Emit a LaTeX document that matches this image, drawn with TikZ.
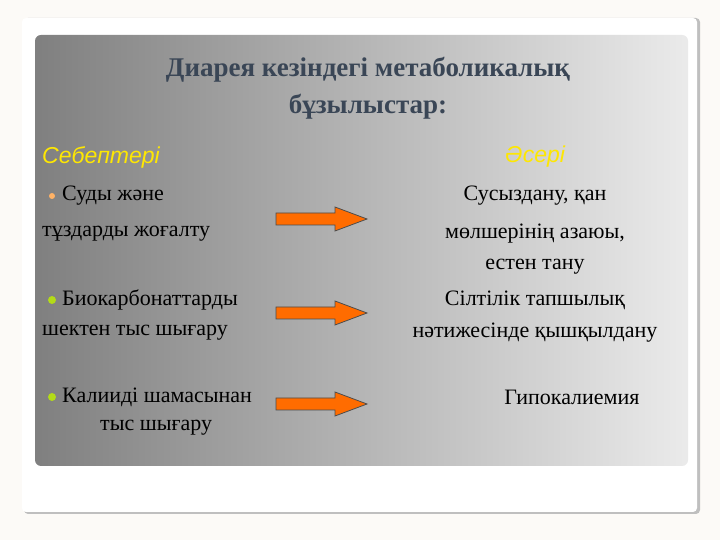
\documentclass[tikz,border=0pt]{standalone}
\usepackage{fontspec}
\setmainfont{Liberation Serif}
\newfontfamily\hsans{Liberation Sans}
\definecolor{ttlc}{HTML}{3A4656}
\begin{document}
\begin{tikzpicture}[x=1pt,y=1pt,
  txt/.style={font=\fontsize{22}{24}\selectfont, inner sep=0pt},
  head/.style={font=\hsans\itshape\fontsize{23}{25}\selectfont, text=yellow!90!orange, inner sep=0pt},
  ttl/.style={font=\bfseries\fontsize{27}{29}\selectfont, text=ttlc, inner sep=0pt},
  arr/.style={fill=orange!85!red, draw=black!70, line width=0.8pt},
  bul/.style={circle, inner sep=0pt, minimum size=8pt, fill=yellow!70!green}]
\useasboundingbox (0,0) rectangle (720,540);
\fill[black!5!brown!4!white] (0,0) rectangle (720,540);
\fill[black!25, rounded corners=4pt] (24,26) rectangle (700,522);
\fill[white, rounded corners=4pt] (22,28) rectangle (697,522);
\shade[left color=black!50, right color=black!8, rounded corners=6pt] (35,74) rectangle (688,505);
\node[ttl] (t1) at (368,470) {Диарея кезіндегі метаболикалық};
\node[ttl] (t2) at (368,433) {бұзылыстар:};
\node[head, anchor=west] (h1) at (42,383) {Себептері};
\node[head] (h2) at (535,383) {Әсері};
\node[circle, inner sep=0pt, minimum size=6pt, fill=orange!60] (b1) at (52,344) {};
\node[txt, anchor=west] (l1) at (62,344) {Суды жəне};
\node[txt, anchor=west] (l2) at (42,306) {тұздарды жоғалту};
\node[bul] (b2) at (52,240) {};
\node[txt, anchor=west] (l3) at (62,240) {Биокарбонаттарды};
\node[txt, anchor=west] (l4) at (42,207) {шектен тыс шығару};
\node[bul] (b3) at (52,143) {};
\node[txt, anchor=west] (l5) at (62,143) {Калииді шамасынан};
\node[txt, anchor=west] (l6) at (100,112) {тыс шығару};
\node[txt] (r1) at (535,344) {Сусыздану, қан};
\node[txt] (r2) at (535,306) {мөлшерінің азаюы,};
\node[txt] (r3) at (535,273) {естен тану};
\node[txt] (r4) at (535,240) {Сілтілік тапшылық};
\node[txt] (r5) at (535,207) {нәтижесінде қышқылдану};
\node[txt] (r6) at (572,143) {Гипокалиемия};
\foreach \y in {321,227,136}{
  \draw[arr] (276,\y+6) -- (335,\y+6) -- (335,\y+12) -- (367,\y) -- (335,\y-12) -- (335,\y-6) -- (276,\y-6) -- cycle;
}
\end{tikzpicture}
\end{document}
